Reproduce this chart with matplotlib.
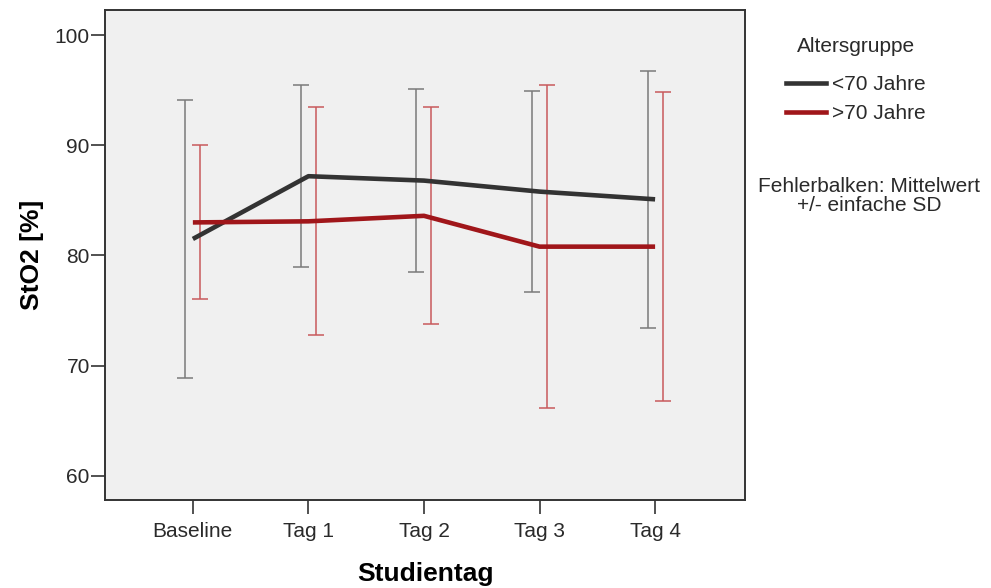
import matplotlib
matplotlib.use("Agg")
import matplotlib.pyplot as plt
import numpy as np
from matplotlib.lines import Line2D

plt.rcParams['font.family'] = ['Liberation Sans', 'DejaVu Sans']

categories = ["Baseline", "Tag 1", "Tag 2", "Tag 3", "Tag 4"]
groups = ["<70 Jahre", ">70 Jahre"]
mean_u70 = [81.5, 87.2, 86.8, 85.8, 85.1]
sd_u70 = [12.65, 8.25, 8.3, 9.1, 11.7]
mean_o70 = [83.0, 83.1, 83.6, 80.8, 80.8]
sd_o70 = [7.0, 10.35, 9.85, 14.7, 14.05]
yticks = [60, 70, 80, 90, 100]

colors = ["#333333", "#a0161a"]
bar_colors = ["#7a7a7a", "#c8595c"]

fig = plt.figure(figsize=(9.91, 5.88), dpi=100)
ax = fig.add_axes([0.106, 0.150, 0.646, 0.833])
ax.set_facecolor("#f0f0f0")

x = np.arange(len(categories))
offsets = [-0.065, 0.065]
for i, (m, s) in enumerate([(mean_u70, sd_u70), (mean_o70, sd_o70)]):
    ax.errorbar(x + offsets[i], m, yerr=s, fmt='none', ecolor=bar_colors[i],
                elinewidth=1.1, capsize=5.5, capthick=1.1, zorder=2)
for i, m in enumerate([mean_u70, mean_o70]):
    ax.plot(x, m, color=colors[i], lw=3.3, zorder=3, solid_capstyle='butt')

ax.set_xlim(-0.76, 4.78)
ax.set_ylim(57.8, 102.3)
ax.set_yticks(yticks)
ax.set_xticks(x)
ax.set_xticklabels(categories)
ax.tick_params(axis='both', labelsize=15, colors='#333333', length=10, width=1.2,
               labelcolor='#2a2a2a', pad=1)
ax.tick_params(axis='x', pad=6)
for sp in ax.spines.values():
    sp.set_linewidth(1.4)
    sp.set_color('#333333')

ax.set_xlabel("Studientag", fontsize=19, fontweight='bold', labelpad=15)
ax.set_ylabel("StO2 [%]", fontsize=19, fontweight='bold', labelpad=8)

handles = [Line2D([], [], color=colors[0], lw=3.3), Line2D([], [], color=colors[1], lw=3.3)]
leg = fig.legend(handles, groups, title="Altersgruppe", loc='upper left',
                 bbox_to_anchor=(0.785, 0.952), frameon=False, fontsize=15,
                 title_fontsize=15, handlelength=1.9, handletextpad=0.3, labelspacing=0.47,
                 borderaxespad=0)
leg.get_title().set_color('#2a2a2a')
leg._legend_box.sep = 14
for t in leg.get_texts():
    t.set_color('#2a2a2a')
fig.text(0.877, 0.667, "Fehlerbalken: Mittelwert\n+/- einfache SD", ha='center', va='center',
         fontsize=15, color='#2a2a2a', linespacing=1.0)

fig.savefig("out.png", dpi=100)
